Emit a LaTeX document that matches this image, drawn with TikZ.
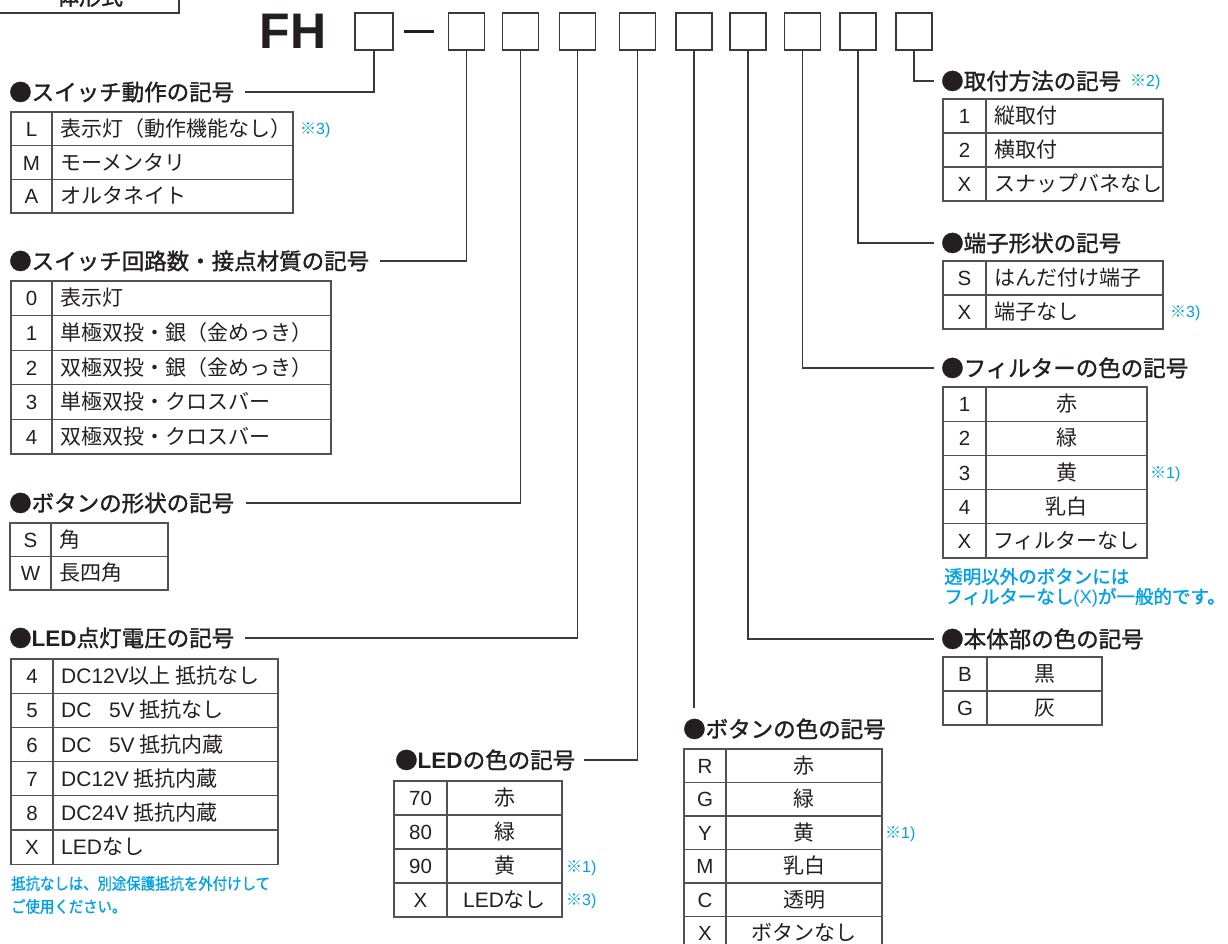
\documentclass[tikz,border=0pt]{standalone}
\usepackage{fontspec}
\newfontfamily\cjk{Noto Sans CJK JP}
\newfontfamily\cjkm[FakeBold=1.4]{Noto Sans CJK JP}
\newfontfamily\cjkn[FakeStretch=0.9,FakeBold=1.0]{Noto Sans CJK JP}
\newfontfamily\lat{Liberation Sans}
\definecolor{ink}{HTML}{231F20}
\definecolor{lnc}{HTML}{3A3A3A}
\definecolor{note}{HTML}{00A0E9}
\tikzset{
  hd/.style={font=\cjkm\fontsize{22.5}{26}\selectfont, text=ink, inner sep=0pt, anchor=base west},
  tx/.style={font=\cjk\fontsize{21}{24}\selectfont, text=ink, inner sep=0pt},
  cd/.style={font=\lat\fontsize{20.5}{24}\selectfont, text=ink, inner sep=0pt, anchor=base},
  mk/.style={font=\lat\fontsize{16}{19}\selectfont, text=note, inner sep=0pt, anchor=base west},
  ntr/.style={font=\cjkm\fontsize{18.5}{20}\selectfont, text=note, inner sep=0pt, anchor=base west},
  ntl/.style={font=\cjkn\fontsize{16}{20}\selectfont, text=note, inner sep=0pt, anchor=base west},
  slot/.style={draw=lnc, line width=1.3pt, minimum width=36pt, minimum height=37pt, inner sep=0pt},
  con/.style={draw=lnc, line width=1.3pt},
  grd/.style={draw=black!68, line width=1.3pt},
}
% #1 name #2 left #3 top #4 col #5 right #6 rowh #7 centred? #8 rows
\newcommand\codetab[8]{%
  \foreach \cc/\dsc [count=\ii] in {#8} {
    \pgfmathsetmacro\yy{#3+(\ii-0.5)*#6+7.5}
    \node[cd] (#1c\ii) at ({(#2+#4)/2},\yy) {\cc};
    \ifnum#7=1
      \node[tx,anchor=base] (#1t\ii) at ({(#4+#5)/2},\yy) {\dsc};
    \else
      \node[tx,anchor=base west] (#1t\ii) at ({#4+8},\yy) {\dsc};
    \fi
    \ifnum\ii>1 \draw[grd] (#2,{#3+(\ii-1)*#6}) -- (#5,{#3+(\ii-1)*#6}); \fi
    \xdef\nrows{\ii}
  }
  \draw[grd] (#2,#3) rectangle (#5,{#3+\nrows*#6});
  \draw[grd] (#4,#3) -- (#4,{#3+\nrows*#6});
}
\begin{document}
\begin{tikzpicture}[x=1pt,y=-1pt]
\useasboundingbox (0,0) rectangle (1228,944);
\clip (0,0) rectangle (1228,944);

% cut-off title box
\draw[con] (-10,-30) rectangle (179,13);
\node[font=\cjkm\fontsize{22}{26}\selectfont, text=ink, inner sep=0pt, anchor=base] (ttl) at (90,5) {体形式};

% model code
\node[font=\lat\bfseries\fontsize{50}{60}\selectfont, text=ink, inner sep=0pt, anchor=base west] (fh) at (259.5,49) {FH};
\node[slot, minimum width=38pt] (b0) at (374,31.5) {};
\node[slot] (b1) at (466.5,31.5) {};
\node[slot] (b2) at (520.5,31.5) {};
\node[slot] (b3) at (577.5,31.5) {};
\node[slot] (b4) at (637.5,31.5) {};
\node[slot] (b5) at (694,31.5) {};
\node[slot] (b6) at (748,31.5) {};
\node[slot] (b7) at (802.5,31.5) {};
\node[slot] (b8) at (858,31.5) {};
\node[slot] (b9) at (914,31.5) {};
\draw[ink, line width=3pt] ([xshift=10pt]b0.east) -- ([xshift=-14pt]b1.west);

% headings
\node[hd] (h1) at (9,100.5) {●スイッチ動作の記号};
\node[hd] (h2) at (9,269.5) {●スイッチ回路数・接点材質の記号};
\node[hd] (h3) at (9,511.5) {●ボタンの形状の記号};
\node[hd] (h4) at (9,646.5) {●{\lat\bfseries LED}点灯電圧の記号};
\node[hd] (h5) at (395,768.5) {●{\lat\bfseries LED}の色の記号};
\node[hd] (h6) at (683,737.5) {●ボタンの色の記号};
\node[hd] (h7) at (941,647.5) {●本体部の色の記号};
\node[hd] (h8) at (941,376.5) {●フィルターの色の記号};
\node[hd] (h9) at (941,251.5) {●端子形状の記号};
\node[hd] (h10) at (941,89.5) {●取付方法の記号};
\coordinate (c6) at (694,708);

% connectors
\draw[con] (b0.south) |- ([xshift=11pt]h1.east);
\draw[con] (b1.south) |- ([xshift=11pt]h2.east);
\draw[con] (b2.south) |- ([xshift=12pt]h3.east);
\draw[con] (b3.south) |- ([xshift=11pt]h4.east);
\draw[con] (b4.south) |- ([xshift=9pt]h5.east);
\draw[con] (b5.south) -- (c6);
\draw[con] (b6.south) |- ([xshift=-7pt]h7.west);
\draw[con] (b7.south) |- ([xshift=-7pt]h8.west);
\draw[con] (b8.south) |- ([xshift=-7pt]h9.west);
\draw[con] (b9.south) |- ([xshift=-7pt]h10.west);

% tables
\codetab{ta}{11}{112}{52}{293}{33.7}{0}{L/表示灯（動作機能なし）,M/モーメンタリ,A/オルタネイト}
\codetab{tb}{11}{281}{52}{331}{34.6}{0}{0/表示灯,1/単極双投・銀（金めっき）,2/双極双投・銀（金めっき）,3/単極双投・クロスバー,4/双極双投・クロスバー}
\codetab{tc}{10}{523}{51}{168}{33.5}{0}{S/角,W/長四角}
\codetab{td}{11}{659}{53}{278}{34.2}{0}{4/{{\lat DC12V}以上 抵抗なし},5/{{\lat DC\phantom{1} 5V} 抵抗なし},6/{{\lat DC\phantom{1} 5V} 抵抗内蔵},7/{{\lat DC12V} 抵抗内蔵},8/{{\lat DC24V} 抵抗内蔵},X/{{\lat LED}なし}}
\codetab{te}{394}{781}{447}{562}{34}{1}{70/赤,80/緑,90/黄,X/{{\lat LED}なし}}
\codetab{tf}{684}{749}{726}{882}{33.5}{1}{R/赤,G/緑,Y/黄,M/乳白,C/透明,X/ボタンなし}
\codetab{tg}{943}{657}{987}{1102}{34}{1}{B/黒,G/灰}
\codetab{th}{943}{387}{986}{1147}{34.2}{1}{1/赤,2/緑,3/黄,4/乳白,X/フィルターなし}
\codetab{ti}{943}{261}{986}{1163}{34}{0}{S/はんだ付け端子,X/端子なし}
\codetab{tj}{943}{99}{986}{1163}{34}{0}{1/縦取付,2/横取付,X/スナップバネなし}

% footnote marks
\node[mk] (m1) at (300,134.6) {{\cjk ※}3)};
\node[mk] (m2) at (1130,86.7) {{\cjk ※}2)};
\node[mk] (m3) at (1170,317.7) {{\cjk ※}3)};
\node[mk] (m4) at (1150,478.2) {{\cjk ※}1)};
\node[mk] (m5) at (566,872.7) {{\cjk ※}1)};
\node[mk] (m6) at (566,905.7) {{\cjk ※}3)};
\node[mk] (m7) at (885,838.7) {{\cjk ※}1)};

% notes
\node[ntl] (nl1) at (11,889.5) {抵抗なしは、別途保護抵抗を外付けして};
\node[ntl] (nl2) at (11,912.5) {ご使用ください。};
\node[ntr] (nr1) at (944,583.5) {透明以外のボタンには};
\node[ntr] (nr2) at (944,603.5) {フィルターなし{\lat(X)}が一般的です。};
\end{tikzpicture}
\end{document}
